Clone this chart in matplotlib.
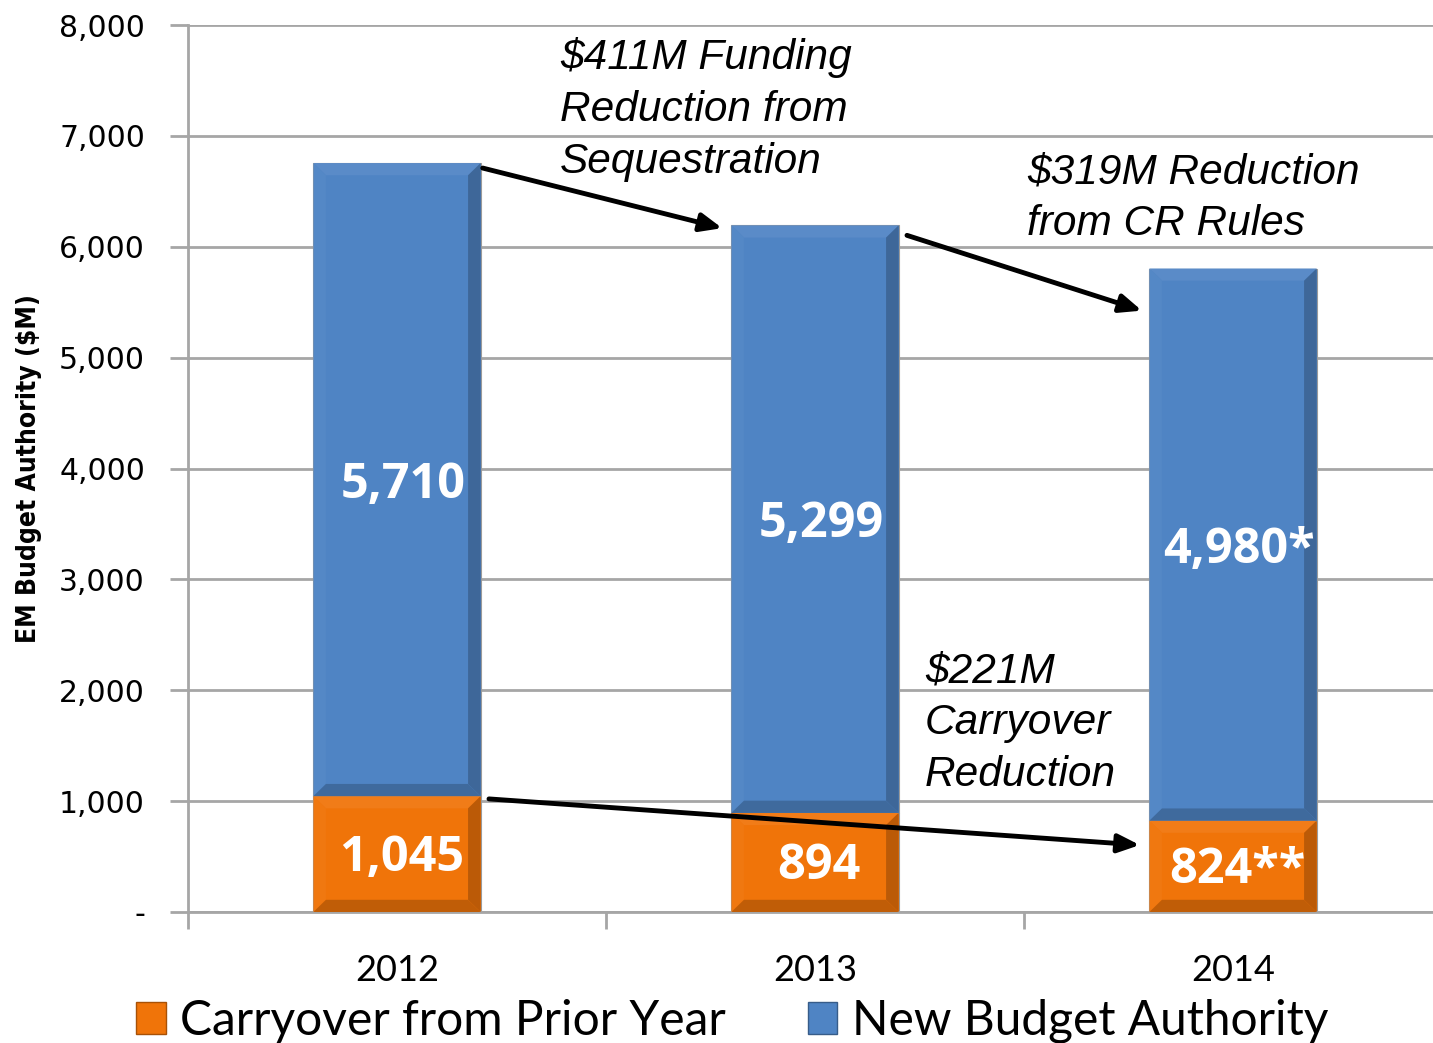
import matplotlib
matplotlib.use("Agg")
import matplotlib.pyplot as plt
import matplotlib.colors as mcolors
from matplotlib.patches import Polygon, Patch
import numpy as np

years = ["2012", "2013", "2014"]
carryover = [1045, 894, 824]
new_budget = [5710, 5299, 4980]
carry_labels = ["1,045", "894", "824**"]
new_labels = ["5,710", "5,299", "4,980*"]

ORANGE = "#F07409"
BLUE = "#4F84C4"


def shade(color, amount):
    """Blend color towards white (amount>0) or black (amount<0)."""
    c = np.array(mcolors.to_rgb(color))
    if amount > 0:
        return tuple(c + (1 - c) * amount)
    return tuple(c * (1 + amount))


def bevel(ax, patch, dx, dy):
    """Draw a simple bevel frame over a bar rectangle."""
    x0, y0 = patch.get_x(), patch.get_y()
    x1, y1 = x0 + patch.get_width(), y0 + patch.get_height()
    color = patch.get_facecolor()
    sides = [
        ([(x0, y1), (x1, y1), (x1 - dx, y1 - dy), (x0 + dx, y1 - dy)], shade(color, 0.06)),
        ([(x0, y0), (x0, y1), (x0 + dx, y1 - dy), (x0 + dx, y0 + dy)], shade(color, 0.03)),
        ([(x1, y0), (x1, y1), (x1 - dx, y1 - dy), (x1 - dx, y0 + dy)], shade(color, -0.22)),
        ([(x0, y0), (x1, y0), (x1 - dx, y0 + dy), (x0 + dx, y0 + dy)], shade(color, -0.2)),
    ]
    for pts, c in sides:
        ax.add_patch(Polygon(pts, closed=True, facecolor=c, edgecolor="none", zorder=3))


fig = plt.figure(figsize=(14.33, 10.43), dpi=100)
ax = fig.add_axes([0.1312, 0.1256, 0.8751, 0.8504])

x = np.arange(len(years))
width = 0.4
bars_c = ax.bar(x, carryover, width, color=ORANGE, zorder=2, edgecolor="#9a9a9a", linewidth=0.8)
bars_n = ax.bar(x, new_budget, width, bottom=carryover, color=BLUE, zorder=2,
                edgecolor="#9a9a9a", linewidth=0.8)
for p in list(bars_c) + list(bars_n):
    bevel(ax, p, 0.03, 110)

totals = np.array(carryover) + np.array(new_budget)

# segment labels
label_font = dict(family=["Open Sans", "DejaVu Sans"], fontweight="bold", fontsize=35,
                  color="white", ha="center", va="center", zorder=5)
for i in x:
    ax.text(i + 0.015, carryover[i] + new_budget[i] / 2 - 50, new_labels[i], **label_font)
    ax.text(i + 0.01, carryover[i] / 2 - 40, carry_labels[i], **label_font)

# arrows
arrow = dict(arrowstyle="-|>,head_length=1.3,head_width=0.55", color="black", lw=3.5,
             shrinkA=0, shrinkB=0)
ax.annotate("", xy=(1 - width / 2 - 0.022, totals[1] - 25),
            xytext=(width / 2 + 0.005, totals[0] - 45), arrowprops=arrow, zorder=6)
ax.annotate("", xy=(2 - width / 2 - 0.018, totals[2] - 380),
            xytext=(1 + width / 2 + 0.02, totals[1] - 90), arrowprops=arrow, zorder=6)
ax.annotate("", xy=(2 - width / 2 - 0.023, carryover[2] - 220),
            xytext=(width / 2 + 0.02, carryover[0] - 25), arrowprops=arrow, zorder=6)

note_font = dict(family=["Liberation Sans", "DejaVu Sans"], style="italic", fontsize=30.5,
                 ha="left", va="top", linespacing=1.38, zorder=6)
ax.text(0.39, 7890, "$411M Funding\nReduction from\nSequestration", **note_font)
ax.text(1.507, 6850, "$319M Reduction\nfrom CR Rules", **note_font)
ax.text(1.263, 2350, "$221M\nCarryover\nReduction", **note_font)

# axes styling
ax.set_xlim(-0.5, 2.5)
ax.set_ylim(0, 8000)
ax.set_yticks(np.arange(0, 8001, 1000))
ax.set_yticklabels(["-"] + [f"{v:,}" for v in range(1000, 8001, 1000)],
                   fontsize=21.5, family="DejaVu Sans")
ax.yaxis.grid(True, color="#a6a6a6", linewidth=2, zorder=0)
ax.set_axisbelow(True)

ax.set_xticks(x)
ax.set_xticklabels(years, fontsize=26, family=["Lato", "DejaVu Sans"])
ax.set_xticks([-0.5, 0.5, 1.5, 2.5], minor=True)
ax.tick_params(axis="x", which="major", length=0, pad=30)
ax.tick_params(axis="x", which="minor", length=12, width=2, color="#a6a6a6")
ax.tick_params(axis="y", length=13, width=2, color="#a6a6a6", pad=18)

for s in ["top", "right"]:
    ax.spines[s].set_visible(False)
for s in ["left", "bottom"]:
    ax.spines[s].set_color("#a6a6a6")
    ax.spines[s].set_linewidth(2)

ax.set_ylabel("EM Budget Authority ($M)", fontsize=19, fontweight="bold",
              fontstretch="condensed", family="DejaVu Sans", labelpad=12)

handles = [Patch(facecolor=ORANGE, edgecolor=shade(ORANGE, -0.3), label="Carryover from Prior Year"),
           Patch(facecolor=BLUE, edgecolor=shade(BLUE, -0.3), label="New Budget Authority")]
fig.legend(handles=handles, loc="center", bbox_to_anchor=(0.511, 0.021), ncol=2,
           frameon=False, prop={"family": ["Lato", "DejaVu Sans"], "size": 34.5},
           handlelength=0.62, handleheight=0.62, handletextpad=0.3, columnspacing=1.7,
           borderpad=0, borderaxespad=0)

fig.savefig("out.png", dpi=100)
